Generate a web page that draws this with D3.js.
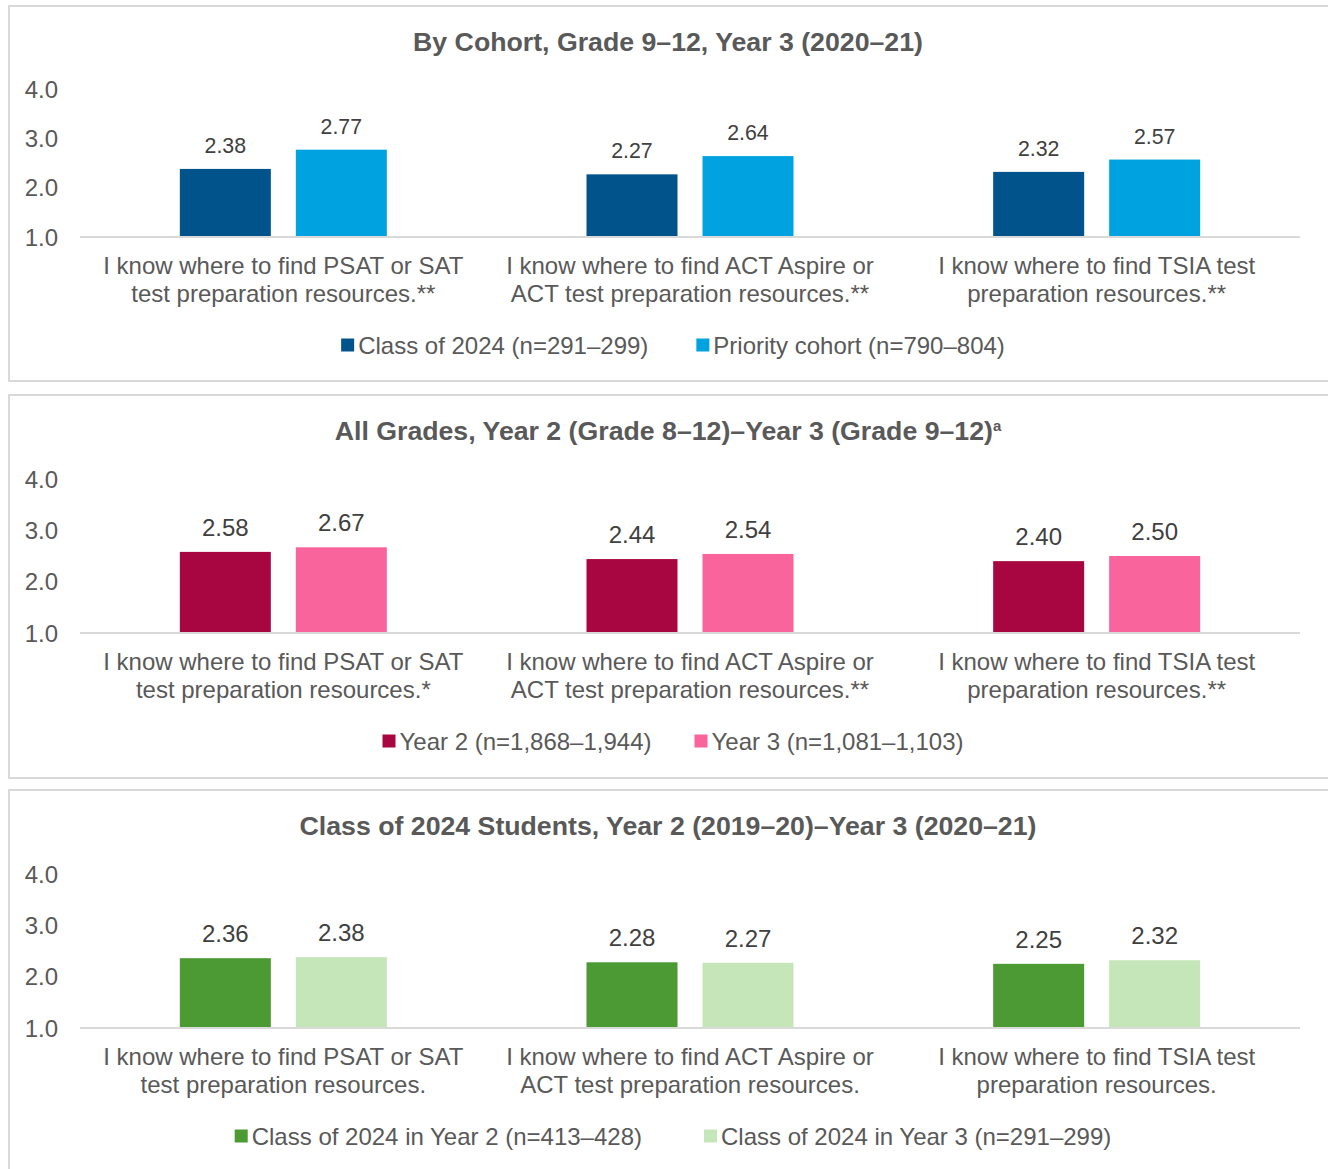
<!DOCTYPE html>
<html>
<head>
<meta charset="utf-8">
<script src="https://cdnjs.cloudflare.com/ajax/libs/d3/7.8.5/d3.min.js"></script>
<style>
  body { margin: 0; background: #fff; }
  text { font-family: "Liberation Sans", Arial, sans-serif; }
</style>
</head>
<body>
<div id="chart"></div>
<script>

// Data
var categories = [
    ["I know where to find PSAT or SAT", "test preparation resources."],
    ["I know where to find ACT Aspire or", "ACT test preparation resources."],
    ["I know where to find TSIA test", "preparation resources."]
];

var titles = [
    "By Cohort, Grade 9\u201312, Year 3 (2020\u201321)",
    "All Grades, Year 2 (Grade 8\u201312)\u2013Year 3 (Grade 9\u201312)",
    "Class of 2024 Students, Year 2 (2019\u201320)\u2013Year 3 (2020\u201321)"
];

var stars = [
    ["**", "**", "**"],
    ["*", "**", "**"],
    ["", "", ""]
];

var seriesNames = [
    ["Class of 2024 (n=291\u2013299)", "Priority cohort (n=790\u2013804)"],
    ["Year 2 (n=1,868\u20131,944)", "Year 3 (n=1,081\u20131,103)"],
    ["Class of 2024 in Year 2 (n=413\u2013428)", "Class of 2024 in Year 3 (n=291\u2013299)"]
];

var cohortValues = [[2.38, 2.77], [2.27, 2.64], [2.32, 2.57]];
var gradeValues = [[2.58, 2.67], [2.44, 2.54], [2.40, 2.50]];
var classValues = [[2.36, 2.38], [2.28, 2.27], [2.25, 2.32]];

var yTicks = [1.0, 2.0, 3.0, 4.0];

var colors = [
    ["#00538B", "#00A3E0"],
    ["#A80640", "#F8649B"],
    ["#4C9A33", "#C5E6B8"]
];

// layout for the three panels
var panels = [
    { top: 6, height: 375, yTop: 83, yBase: 231, valueSize: 21.3, legendGap: 48, values: cohortValues },
    { top: 395, height: 383, yTop: 84, yBase: 238, valueSize: 24, legendGap: 43, values: gradeValues },
    { top: 790, height: 400, yTop: 84, yBase: 238, valueSize: 24, legendGap: 62, values: classValues }
];

var width = 1328, height = 1169;

var svg = d3.select("#chart").append("svg")
    .attr("width", width)
    .attr("height", height);

var gray = "#595959";

panels.forEach(function(p, i) {

    var g = svg.append("g")
        .attr("transform", "translate(0," + p.top + ")");

    // panel frame
    g.append("rect")
        .attr("x", 9)
        .attr("y", 0)
        .attr("width", 1340)
        .attr("height", p.height)
        .attr("fill", "none")
        .attr("stroke", "#d9d9d9")
        .attr("stroke-width", 2);

    var title = g.append("text")
        .attr("x", 668)
        .attr("y", 45)
        .attr("text-anchor", "middle")
        .style("font-size", "26.7px")
        .style("font-weight", "bold")
        .style("fill", gray)
        .text(titles[i]);

    if (i === 1) {
        title.append("tspan")
            .attr("dy", -9)
            .style("font-size", "15px")
            .text("a");
    }

    var y = d3.scaleLinear()
        .domain([1, 4])
        .range([p.yBase, p.yTop]);

    var x0 = d3.scaleBand()
        .domain(d3.range(categories.length))
        .range([80, 1300]);

    var x1 = d3.scaleBand()
        .domain([0, 1])
        .range([0, 207])
        .paddingInner(25 / 116);

    var offset = (x0.bandwidth() - 207) / 2;

    // y tick labels
    g.selectAll(".ytick")
        .data(yTicks)
        .enter().append("text")
        .attr("class", "ytick")
        .attr("x", 58)
        .attr("y", function(d) { return y(d); })
        .attr("dy", "0.36em")
        .attr("text-anchor", "end")
        .style("font-size", "24px")
        .style("fill", gray)
        .text(function(d) { return d.toFixed(1); });

    var groups = g.selectAll(".group")
        .data(p.values)
        .enter().append("g")
        .attr("class", "group")
        .attr("transform", function(d, j) {
            return "translate(" + (x0(j) + offset) + ",0)";
        });

    groups.selectAll("rect")
        .data(function(d) { return d; })
        .enter().append("rect")
        .attr("x", function(d, k) { return x1(k); })
        .attr("y", function(d) { return y(d); })
        .attr("width", x1.bandwidth())
        .attr("height", function(d) { return y(1) - y(d); })
        .attr("fill", function(d, k) { return colors[i][k]; });

    groups.selectAll(".val")
        .data(function(d) { return d; })
        .enter().append("text")
        .attr("class", "val")
        .attr("x", function(d, k) { return x1(k) + x1.bandwidth() / 2; })
        .attr("y", function(d) { return y(d) - 16; })
        .attr("text-anchor", "middle")
        .style("font-size", p.valueSize + "px")
        .style("fill", "#404040")
        .text(function(d) { return d.toFixed(2); });

    // baseline
    g.append("line")
        .attr("x1", 80)
        .attr("x2", 1300)
        .attr("y1", y(1))
        .attr("y2", y(1))
        .attr("stroke", "#d9d9d9")
        .attr("stroke-width", 2);

    // category labels
    var labels = g.selectAll(".cat")
        .data(categories)
        .enter().append("text")
        .attr("class", "cat")
        .attr("text-anchor", "middle")
        .style("font-size", "24px")
        .style("fill", gray);

    labels.each(function(d, j) {
        d3.select(this).selectAll("tspan")
            .data([d[0], d[1] + stars[i][j]])
            .enter().append("tspan")
            .attr("x", x0(j) + x0.bandwidth() / 2)
            .attr("y", function(t, k) { return p.yBase + 37 + k * 27.5; })
            .text(function(t) { return t; });
    });

    // legend
    var legend = g.append("g");
    var lx = 0;
    seriesNames[i].forEach(function(name, k) {
        var item = legend.append("g").attr("transform", "translate(" + lx + ",0)");
        item.append("rect")
            .attr("x", 0)
            .attr("y", -6.5)
            .attr("width", 13)
            .attr("height", 13)
            .attr("fill", colors[i][k]);
        var t = item.append("text")
            .attr("x", 17)
            .attr("y", 0)
            .attr("dy", "0.36em")
            .style("font-size", "24px")
            .style("fill", gray)
            .text(name);
        lx += 17 + t.node().getComputedTextLength() + p.legendGap;
    });
    var legendW = lx - p.legendGap;
    legend.attr("transform", "translate(" + (673 - legendW / 2) + "," + (p.yBase + 108) + ")");
});

</script>
</body>
</html>
